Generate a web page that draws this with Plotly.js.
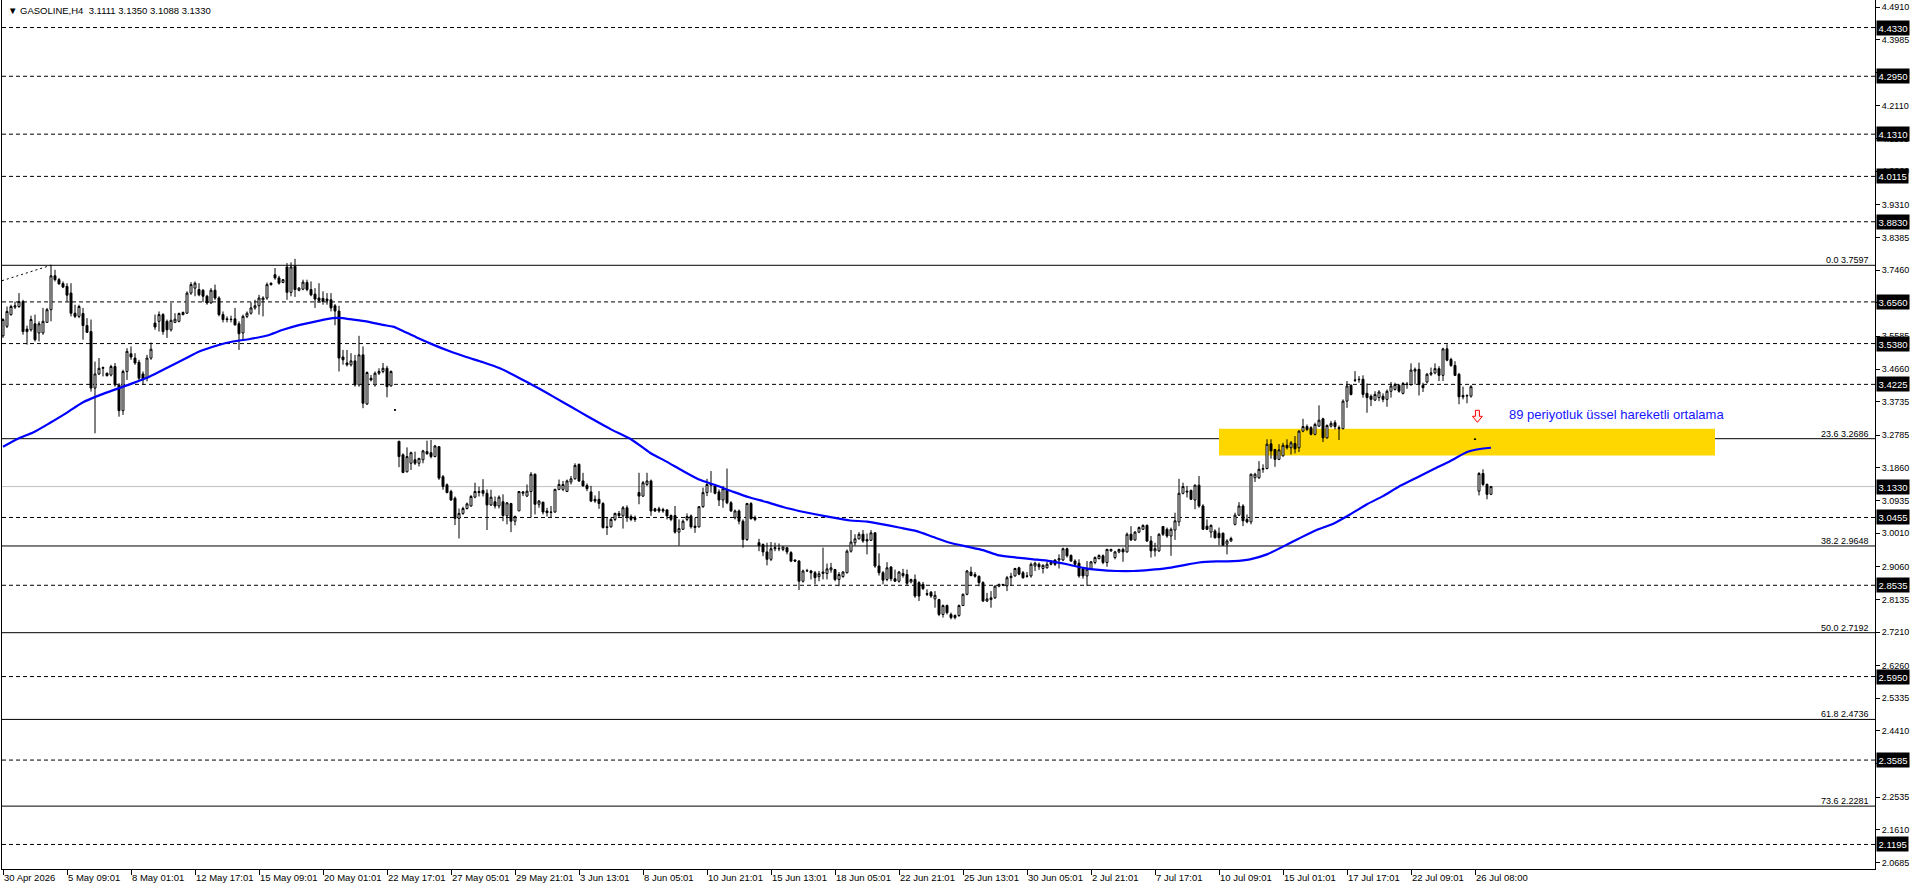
<!DOCTYPE html>
<html>
<head>
<meta charset="utf-8">
<script src="https://cdn.plot.ly/plotly-3.0.1.min.js"></script>
<style>
html,body{margin:0;padding:0;background:#fff;}
#chart{width:1916px;height:888px;}
</style>
</head>
<body>
<div id="chart"></div>
<script>
// ---------- DATA ----------
const symbolName = 'GASOLINE,H4';

const timeLabels = ['30 Apr 2026','5 May 09:01','8 May 01:01','12 May 17:01','15 May 09:01','20 May 01:01',
  '22 May 17:01','27 May 05:01','29 May 21:01','3 Jun 13:01','8 Jun 05:01','10 Jun 21:01','15 Jun 13:01',
  '18 Jun 05:01','22 Jun 21:01','25 Jun 13:01','30 Jun 05:01','2 Jul 21:01','7 Jul 17:01','10 Jul 09:01',
  '15 Jul 01:01','17 Jul 17:01','22 Jul 09:01','26 Jul 08:00'];
const timeLabelBars = [0,16,32,48,64,80,96,112,128,144,160,176,192,208,224,240,256,272,288,304,320,336,352,368];

const open = [
3.560,3.587,3.620,3.641,3.643,3.657,3.579,3.577,3.594,3.568,3.568,3.598,3.634,3.730,3.719,3.708,3.700,3.681,3.624,3.615,
3.623,3.589,3.572,3.412,3.452,3.468,3.454,3.449,3.473,3.421,3.348,3.459,3.509,3.497,3.485,3.452,3.440,3.497,3.596,3.601,
3.620,3.601,3.577,3.598,3.601,3.620,3.624,3.681,3.695,3.691,3.689,3.672,3.653,3.689,3.667,3.620,3.608,3.607,3.608,3.594,
3.568,3.615,3.624,3.639,3.645,3.662,3.667,3.705,3.733,3.724,3.711,3.755,3.683,3.757,3.689,3.692,3.711,3.691,3.678,3.667,
3.666,3.664,3.662,3.645,3.630,3.500,3.483,3.478,3.489,3.421,3.506,3.367,3.440,3.421,3.454,3.459,3.468,3.418,3.350,3.261,
3.223,3.175,3.199,3.209,3.199,3.209,3.232,3.229,3.218,3.246,3.161,3.138,3.119,3.100,3.043,3.057,3.071,3.078,3.103,3.116,
3.122,3.114,3.081,3.090,3.078,3.090,3.050,3.085,3.035,3.064,3.114,3.106,3.119,3.168,3.083,3.089,3.064,3.061,3.061,3.125,
3.125,3.119,3.146,3.155,3.196,3.149,3.136,3.118,3.097,3.097,3.085,3.019,3.019,3.040,3.057,3.050,3.073,3.048,3.044,3.116,
3.106,3.139,3.149,3.070,3.070,3.068,3.067,3.051,3.051,3.004,3.012,3.040,3.050,3.021,3.019,3.076,3.116,3.137,3.135,3.118,
3.095,3.125,3.087,3.045,3.064,3.035,2.983,3.085,3.045,2.974,2.969,2.948,2.927,2.957,2.958,2.955,2.960,2.946,2.925,2.922,
2.865,2.894,2.894,2.889,2.878,2.887,2.887,2.897,2.898,2.870,2.878,2.889,2.950,2.974,2.985,2.998,2.983,2.981,3.002,2.908,
2.889,2.870,2.905,2.872,2.865,2.881,2.884,2.863,2.870,2.861,2.856,2.830,2.834,2.815,2.813,2.771,2.796,2.771,2.762,2.768,
2.796,2.828,2.891,2.884,2.879,2.861,2.809,2.813,2.818,2.851,2.856,2.852,2.875,2.880,2.903,2.889,2.880,2.880,2.908,2.913,
2.901,2.903,2.913,2.925,2.925,2.925,2.957,2.938,2.922,2.916,2.901,2.880,2.901,2.918,2.929,2.937,2.918,2.951,2.932,2.948,
2.955,2.948,2.998,2.982,3.004,3.012,3.023,2.979,2.951,2.951,3.020,3.012,2.993,3.010,3.033,3.114,3.120,3.122,3.095,3.137,
3.078,3.021,3.004,3.007,3.001,3.001,2.970,2.979,3.026,3.052,3.078,3.040,3.033,3.158,3.158,3.182,3.184,3.254,3.238,3.210,
3.220,3.250,3.243,3.255,3.243,3.290,3.303,3.300,3.281,3.304,3.325,3.271,3.304,3.314,3.300,3.297,3.375,3.420,3.435,3.437,
3.437,3.397,3.389,3.378,3.385,3.389,3.380,3.403,3.408,3.420,3.397,3.422,3.422,3.460,3.465,3.420,3.429,3.451,3.455,3.467,
3.448,3.523,3.493,3.476,3.451,3.391,3.391,3.389,3.2675,3.120,3.170,3.139,3.1111];

const high = [
3.610,3.643,3.648,3.657,3.681,3.662,3.589,3.617,3.620,3.601,3.639,3.639,3.761,3.747,3.724,3.714,3.709,3.709,3.648,3.648,
3.639,3.610,3.606,3.487,3.497,3.473,3.456,3.478,3.483,3.426,3.464,3.525,3.530,3.511,3.492,3.459,3.506,3.541,3.620,3.629,
3.624,3.606,3.653,3.624,3.626,3.629,3.686,3.712,3.714,3.709,3.692,3.676,3.695,3.705,3.672,3.629,3.615,3.617,3.639,3.601,
3.620,3.629,3.655,3.662,3.676,3.672,3.711,3.711,3.752,3.730,3.721,3.766,3.768,3.778,3.698,3.719,3.719,3.714,3.695,3.709,
3.686,3.681,3.681,3.650,3.645,3.520,3.520,3.511,3.506,3.560,3.530,3.459,3.449,3.459,3.468,3.483,3.475,3.462,3.351,3.263,
3.227,3.244,3.232,3.232,3.213,3.237,3.263,3.265,3.251,3.248,3.166,3.142,3.124,3.105,3.071,3.076,3.088,3.109,3.144,3.133,
3.154,3.125,3.124,3.105,3.108,3.111,3.089,3.087,3.051,3.120,3.120,3.139,3.174,3.170,3.095,3.089,3.073,3.078,3.127,3.153,
3.149,3.153,3.163,3.199,3.198,3.172,3.142,3.135,3.108,3.120,3.089,3.045,3.045,3.059,3.064,3.078,3.080,3.054,3.051,3.172,
3.149,3.172,3.153,3.073,3.076,3.073,3.068,3.054,3.078,3.040,3.040,3.057,3.054,3.045,3.078,3.130,3.155,3.177,3.139,3.125,
3.135,3.184,3.092,3.068,3.068,3.040,3.087,3.089,3.051,2.985,2.972,2.974,2.976,2.974,2.972,2.963,2.960,2.950,2.927,2.925,
2.898,2.900,2.897,2.894,2.894,2.960,2.915,2.917,2.900,2.891,2.894,2.955,3.010,2.998,3.004,3.010,3.000,3.010,3.004,2.944,
2.894,2.919,2.908,2.898,2.894,2.900,2.898,2.872,2.884,2.865,2.863,2.842,2.837,2.837,2.815,2.799,2.799,2.776,2.771,2.799,
2.830,2.897,2.906,2.891,2.881,2.865,2.832,2.837,2.853,2.858,2.857,2.880,2.889,2.903,2.906,2.894,2.891,2.918,2.920,2.918,
2.913,2.920,2.925,2.927,2.941,2.960,2.960,2.941,2.927,2.927,2.903,2.922,2.922,2.935,2.941,2.941,2.957,2.957,2.951,2.957,
2.960,3.003,3.021,3.007,3.020,3.026,3.026,2.993,2.974,3.001,3.021,3.017,3.017,3.059,3.155,3.144,3.135,3.125,3.139,3.163,
3.083,3.040,3.026,3.012,3.017,3.003,2.984,2.991,3.059,3.089,3.083,3.054,3.170,3.172,3.205,3.196,3.267,3.267,3.240,3.253,
3.257,3.267,3.262,3.276,3.293,3.325,3.309,3.304,3.314,3.363,3.328,3.309,3.319,3.321,3.306,3.380,3.432,3.422,3.460,3.446,
3.448,3.425,3.394,3.403,3.406,3.397,3.408,3.429,3.427,3.422,3.429,3.429,3.482,3.470,3.484,3.427,3.455,3.470,3.482,3.474,
3.526,3.536,3.498,3.488,3.455,3.416,3.394,3.420,3.2675,3.174,3.182,3.142,3.1350];

const low = [
3.554,3.582,3.617,3.636,3.639,3.563,3.535,3.572,3.544,3.544,3.563,3.598,3.601,3.714,3.705,3.695,3.657,3.615,3.610,3.610,
3.549,3.568,3.402,3.284,3.449,3.445,3.445,3.445,3.416,3.331,3.336,3.435,3.492,3.478,3.431,3.421,3.431,3.492,3.577,3.572,
3.563,3.554,3.572,3.596,3.598,3.618,3.623,3.676,3.672,3.672,3.655,3.648,3.651,3.662,3.615,3.598,3.598,3.598,3.589,3.520,
3.549,3.610,3.620,3.634,3.620,3.615,3.662,3.702,3.719,3.705,3.709,3.662,3.672,3.670,3.686,3.689,3.686,3.672,3.639,3.653,
3.648,3.648,3.629,3.590,3.459,3.478,3.473,3.473,3.416,3.416,3.355,3.364,3.431,3.416,3.449,3.454,3.386,3.416,3.349,3.188,
3.171,3.173,3.180,3.194,3.190,3.199,3.223,3.213,3.216,3.152,3.124,3.114,3.093,3.024,2.986,3.053,3.068,3.076,3.100,3.105,
3.105,3.010,3.078,3.071,3.071,3.035,3.026,3.004,3.023,3.064,3.106,3.104,3.045,3.054,3.073,3.054,3.048,3.045,3.059,3.123,
3.120,3.118,3.139,3.153,3.146,3.133,3.120,3.089,3.087,3.070,3.014,2.996,3.017,3.035,3.045,3.014,3.033,3.035,3.033,3.083,
3.104,3.135,3.050,3.061,3.059,3.059,3.040,3.035,3.000,2.966,3.010,3.035,3.014,3.002,3.017,3.073,3.106,3.116,3.111,3.078,
3.073,3.083,3.061,3.040,3.026,2.960,2.979,3.040,3.035,2.950,2.936,2.910,2.922,2.950,2.950,2.950,2.941,2.919,2.919,2.840,
2.861,2.891,2.870,2.856,2.865,2.870,2.870,2.889,2.865,2.851,2.875,2.887,2.946,2.966,2.983,2.974,2.941,2.979,2.903,2.881,
2.856,2.865,2.865,2.863,2.861,2.875,2.853,2.859,2.818,2.809,2.840,2.823,2.818,2.790,2.766,2.762,2.771,2.757,2.757,2.764,
2.795,2.825,2.879,2.875,2.851,2.806,2.806,2.790,2.815,2.848,2.852,2.837,2.852,2.878,2.882,2.872,2.875,2.875,2.894,2.897,
2.887,2.901,2.910,2.908,2.901,2.922,2.932,2.920,2.908,2.875,2.872,2.852,2.899,2.913,2.927,2.913,2.906,2.948,2.927,2.944,
2.920,2.946,2.979,2.979,3.001,3.010,2.976,2.932,2.935,2.948,2.993,2.988,2.937,2.982,3.021,3.111,3.102,3.095,3.069,3.073,
3.010,3.010,2.988,2.986,2.967,2.965,2.941,2.976,3.023,3.050,3.021,3.029,3.026,3.146,3.155,3.172,3.182,3.212,3.189,3.208,
3.218,3.238,3.224,3.227,3.231,3.287,3.290,3.278,3.278,3.303,3.259,3.269,3.300,3.295,3.265,3.295,3.356,3.391,3.429,3.427,
3.385,3.342,3.361,3.375,3.375,3.372,3.359,3.385,3.405,3.399,3.394,3.410,3.418,3.422,3.391,3.401,3.425,3.446,3.451,3.432,
3.432,3.488,3.472,3.446,3.366,3.380,3.369,3.385,3.2665,3.108,3.135,3.097,3.1088];

const close = [
3.606,3.629,3.643,3.645,3.657,3.572,3.572,3.606,3.549,3.594,3.601,3.634,3.730,3.719,3.707,3.698,3.675,3.624,3.615,3.643,
3.589,3.570,3.412,3.452,3.468,3.470,3.447,3.473,3.421,3.348,3.459,3.516,3.500,3.483,3.440,3.437,3.497,3.522,3.585,3.620,
3.572,3.577,3.604,3.607,3.623,3.626,3.681,3.705,3.709,3.676,3.672,3.653,3.689,3.667,3.620,3.606,3.606,3.606,3.591,3.566,
3.615,3.624,3.639,3.645,3.667,3.667,3.705,3.709,3.724,3.709,3.719,3.683,3.755,3.691,3.695,3.712,3.691,3.676,3.664,3.660,
3.657,3.660,3.639,3.630,3.497,3.492,3.478,3.489,3.421,3.506,3.369,3.456,3.435,3.454,3.459,3.468,3.416,3.459,3.350,3.218,
3.173,3.218,3.229,3.199,3.213,3.234,3.226,3.218,3.248,3.157,3.133,3.116,3.095,3.043,3.057,3.071,3.084,3.105,3.119,3.119,
3.114,3.081,3.103,3.078,3.103,3.051,3.087,3.035,3.048,3.119,3.118,3.120,3.168,3.083,3.092,3.061,3.059,3.060,3.125,3.139,
3.139,3.149,3.155,3.193,3.149,3.135,3.127,3.092,3.092,3.085,3.017,3.017,3.040,3.057,3.051,3.073,3.045,3.040,3.040,3.106,
3.144,3.149,3.064,3.064,3.064,3.064,3.050,3.040,3.004,3.014,3.035,3.048,3.019,3.017,3.076,3.116,3.139,3.141,3.114,3.095,
3.127,3.087,3.064,3.064,3.035,2.983,3.085,3.042,3.040,2.966,2.948,2.927,2.957,2.960,2.957,2.962,2.948,2.922,2.922,2.865,
2.894,2.895,2.889,2.875,2.886,2.891,2.900,2.903,2.870,2.884,2.891,2.950,2.976,2.985,2.998,2.979,2.979,3.002,2.908,2.889,
2.868,2.903,2.872,2.865,2.891,2.887,2.859,2.870,2.823,2.823,2.844,2.828,2.823,2.825,2.771,2.796,2.776,2.762,2.768,2.796,
2.828,2.894,2.881,2.879,2.861,2.809,2.815,2.818,2.851,2.856,2.854,2.875,2.879,2.901,2.885,2.875,2.879,2.913,2.916,2.906,
2.910,2.913,2.918,2.913,2.929,2.957,2.937,2.922,2.913,2.880,2.880,2.899,2.920,2.932,2.938,2.918,2.955,2.955,2.948,2.955,
2.948,2.998,2.982,3.004,3.017,3.023,2.979,2.951,2.957,2.998,2.998,2.993,3.012,3.036,3.114,3.133,3.118,3.097,3.137,3.078,
3.012,3.012,3.023,2.988,2.988,2.967,2.979,2.986,3.052,3.078,3.036,3.033,3.168,3.168,3.182,3.184,3.253,3.234,3.210,3.237,
3.250,3.243,3.257,3.240,3.290,3.303,3.295,3.281,3.309,3.321,3.271,3.306,3.312,3.303,3.297,3.375,3.418,3.394,3.434,3.436,
3.394,3.385,3.380,3.394,3.401,3.380,3.403,3.418,3.422,3.403,3.425,3.423,3.463,3.465,3.422,3.413,3.451,3.455,3.467,3.448,
3.523,3.491,3.476,3.448,3.387,3.387,3.390,3.416,3.267,3.170,3.139,3.111,3.1330];

// 89-period exponential moving average (bar index, price)
const emaBars = [0,4,7.5,11.7,15.8,20,24.2,28.3,32.5,36.7,40.8,45,49.2,53.3,57.5,61.7,65.8,70,74.2,78.3,82.5,85,86.7,
  90.8,95,97.5,99.2,103.3,107.5,111.7,115.8,120,124.2,128,132,136,140,144,148,152,157,161.75,166,170,174,178.4,182.6,
  186.75,191,195,199,203.4,207.6,211.75,216,220,224,228.4,232.6,236.75,241,245,249,253.4,257.6,261.75,266,270,274,
  278.4,282.6,286.75,291,295,299,303.4,307.6,311.75,316,320,324,328.4,332.6,336.75,341,345,349,353.4,357.6,361.75,
  366,368.4,372];
const emaValues = [3.246,3.270,3.286,3.313,3.341,3.372,3.392,3.409,3.426,3.445,3.468,3.492,3.516,3.532,3.544,3.551,
  3.560,3.577,3.591,3.601,3.610,3.610,3.607,3.601,3.591,3.586,3.578,3.556,3.535,3.516,3.500,3.485,3.468,3.447,3.423,
  3.398,3.372,3.346,3.320,3.295,3.267,3.229,3.203,3.177,3.153,3.136,3.118,3.102,3.089,3.075,3.064,3.054,3.045,3.037,
  3.034,3.026,3.017,3.007,2.990,2.974,2.963,2.953,2.938,2.932,2.927,2.922,2.913,2.903,2.897,2.894,2.894,2.897,2.902,
  2.910,2.918,2.921,2.922,2.927,2.941,2.963,2.986,3.010,3.028,3.054,3.083,3.106,3.133,3.158,3.182,3.205,3.231,3.238,
  3.243];

// horizontal price levels (dashed) drawn by the user
const priceLevels = [4.4330,4.2950,4.1310,4.0115,3.8830,3.6560,3.5380,3.4225,3.0455,2.8535,2.5950,2.3585,2.1195];
const bidPrice = 3.1330;

// Fibonacci retracement
const fiboRatios = [0.0,23.6,38.2,50.0,61.8,73.6];
const fiboPrices = [3.7597,3.2686,2.9648,2.7192,2.4736,2.2281];
const fiboTrendBars = [-0.25,12];
const fiboTrendPrices = [3.716,3.7597];

// price-axis tick values
const yTicks = [4.4910,4.3985,4.3060,4.2110,4.1185,4.0260,3.9310,3.8385,3.7460,3.6535,3.5585,3.4660,3.3735,
  3.2785,3.1860,3.0935,3.0010,2.9060,2.8135,2.7210,2.6260,2.5335,2.4410,2.3485,2.2535,2.1610,2.0685];

// yellow zone rectangle
const zoneBars = [304,428];
const zonePrices = [3.221,3.297];

// sell-signal arrow and text label
const arrowBar = 368.6, arrowPrice = 3.332;
const noteBar = 376, notePrice = 3.336;
const noteText = '89 periyotluk üssel hareketli ortalama';

// ---------- CHART ----------
const FONT = 'Liberation Sans, Arial, sans-serif';
const bars = open.map((_, i) => i);
const last = open.length - 1;

const traces = [
  {
    type: 'candlestick', x: bars, open: open, high: high, low: low, close: close,
    increasing: {line: {color: '#000000', width: 1}, fillcolor: '#ffffff'},
    decreasing: {line: {color: '#000000', width: 1}, fillcolor: '#000000'},
    whiskerwidth: 0, hoverinfo: 'skip', showlegend: false
  },
  {
    type: 'scatter', mode: 'lines', x: emaBars, y: emaValues,
    line: {color: '#0000ff', width: 2.2, shape: 'spline', smoothing: 0.6},
    hoverinfo: 'skip', showlegend: false
  }
];

const shapes = [];
shapes.push({type: 'rect', xref: 'x', yref: 'y', x0: zoneBars[0], x1: zoneBars[1], y0: zonePrices[0], y1: zonePrices[1],
  fillcolor: '#ffd700', line: {width: 0}, layer: 'below'});
priceLevels.forEach(p => shapes.push({type: 'line', xref: 'paper', yref: 'y', x0: 0, x1: 1, y0: p, y1: p,
  line: {color: '#000000', width: 1, dash: '4px,3px'}, layer: 'below'}));
fiboPrices.forEach(p => shapes.push({type: 'line', xref: 'paper', yref: 'y', x0: 0, x1: 1, y0: p, y1: p,
  line: {color: '#000000', width: 1}, layer: 'below'}));
shapes.push({type: 'line', xref: 'paper', yref: 'y', x0: 0, x1: 1, y0: bidPrice, y1: bidPrice,
  line: {color: '#c0c0c0', width: 1}, layer: 'below'});
shapes.push({type: 'line', xref: 'x', yref: 'y', x0: fiboTrendBars[0], x1: fiboTrendBars[1],
  y0: fiboTrendPrices[0], y1: fiboTrendPrices[1], line: {color: '#000000', width: 1, dash: '2px,3px'}, layer: 'below'});
// hollow red down-arrow (sell signal), sized in pixels around its anchor
shapes.push({type: 'path', xref: 'x', yref: 'y', xsizemode: 'pixel', ysizemode: 'pixel',
  xanchor: arrowBar, yanchor: arrowPrice,
  path: 'M -2,6 L 2,6 L 2,0 L 5,0 L 0,-6 L -5,0 L -2,0 Z',
  fillcolor: '#fff0f0', line: {color: '#ff0000', width: 1}, layer: 'above'});

const annotations = [];
const nb = '\u00a0';
annotations.push({xref: 'paper', yref: 'paper', x: 0, y: 1, xanchor: 'left', yanchor: 'top', xshift: 4, yshift: -3,
  showarrow: false, align: 'left',
  text: '▼' + nb + symbolName + nb + nb + open[last].toFixed(4) + nb + high[last].toFixed(4) + nb + low[last].toFixed(4) + nb + close[last].toFixed(4),
  font: {family: FONT, size: 9.5, color: '#000000'}, bgcolor: '#ffffff'});
priceLevels.concat([bidPrice]).forEach(p => annotations.push({xref: 'paper', yref: 'y', x: 1, y: p,
  xanchor: 'left', yanchor: 'middle', xshift: 1, showarrow: false, text: p.toFixed(4),
  font: {family: FONT, size: 9.5, color: '#ffffff'}, bgcolor: '#000000', borderpad: 1.5}));
fiboPrices.forEach((p, i) => annotations.push({xref: 'paper', yref: 'y', x: 1, y: p, xanchor: 'right', yanchor: 'bottom',
  xshift: -4, yshift: -2, showarrow: false, text: fiboRatios[i].toFixed(1) + ' ' + p.toFixed(4),
  font: {family: FONT, size: 9, color: '#000000'}}));
annotations.push({xref: 'x', yref: 'y', x: noteBar, y: notePrice, xanchor: 'left', yanchor: 'middle', showarrow: false,
  text: noteText, font: {family: FONT, size: 13, color: '#1515ff'}});

const layout = {
  width: 1916, height: 888,
  margin: {l: 2, r: 41, t: 0, b: 19, pad: 0},
  paper_bgcolor: '#ffffff', plot_bgcolor: '#ffffff',
  showlegend: false, dragmode: false, hovermode: false,
  font: {family: FONT, size: 9, color: '#000000'},
  xaxis: {
    range: [-0.25, 468], showgrid: false, zeroline: false,
    showline: true, linecolor: '#000000', linewidth: 1,
    ticks: 'outside', ticklen: 5, tickwidth: 1, tickcolor: '#000000',
    tickmode: 'array', tickvals: timeLabelBars, ticktext: timeLabels,
    ticklabelposition: 'outside right', tickangle: 0,
    tickfont: {family: FONT, size: 9.5, color: '#000000'},
    rangeslider: {visible: false}, fixedrange: true
  },
  yaxis: {
    side: 'right', range: [2.0500, 4.5110], showgrid: false, zeroline: false,
    showline: true, mirror: true, linecolor: '#000000', linewidth: 1,
    ticks: 'outside', ticklen: 4, tickwidth: 1, tickcolor: '#000000',
    tickmode: 'array', tickvals: yTicks, ticktext: yTicks.map(v => v.toFixed(4)),
    tickfont: {family: FONT, size: 9, color: '#000000'}, fixedrange: true
  },
  shapes: shapes,
  annotations: annotations
};

Plotly.newPlot('chart', traces, layout, {displayModeBar: false, staticPlot: true});
</script>
</body>
</html>
